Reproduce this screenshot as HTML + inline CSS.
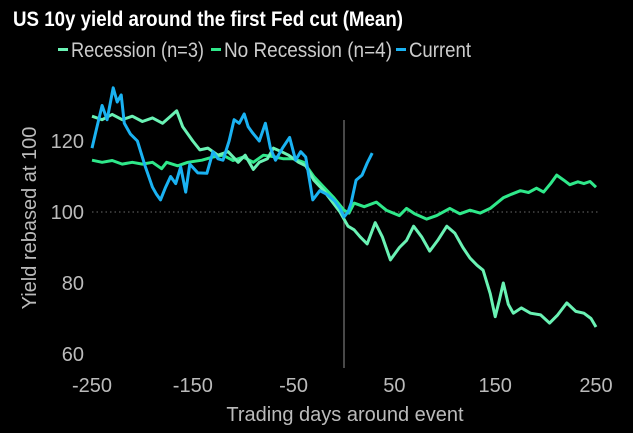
<!DOCTYPE html>
<html><head><meta charset="utf-8"><style>
html,body{margin:0;padding:0;background:#000;}
svg{display:block;font-family:"Liberation Sans",sans-serif;}
</style></head><body>
<svg id="chart" width="633" height="433" viewBox="0 0 633 433">
<rect width="633" height="433" fill="#000"/>
<text x="13" y="26" fill="#fff" font-size="21" font-weight="bold" textLength="390" lengthAdjust="spacingAndGlyphs">US 10y yield around the first Fed cut (Mean)</text>
<g id="legend"></g>
<g id="grid"></g><g id="series"></g><g id="axes"></g>
</svg>
<script>
const xTicks=[-250,-150,-50,50,150,250];
const yTicks=[60,80,100,120];
const recDays=[-250,-240,-230,-220,-210,-200,-190,-180,-172,-166,-160,-150,-143,-135,-125,-115,-105,-98,-90,-84,-76,-70,-62,-55,-45,-38,-30,-20,-12,-4,4,10,16,23,31,38,46,55,62,69,77,85,93,102,110,118,125,132,138,145,150,154,158,163,168,176,185,195,204,212,221,230,238,245,250];
const recVals=[127,126,127.5,126,127,125.5,126.5,125,127,128.5,124,120,117.5,118,116,117,114,116,112,114,115,118,117,116,114,113,109,106,103,100,96,95,93,91,97,93,86.5,90,92,96,93,89,92,96,94,90,87,85,83.6,77,70.5,75,80,74,71.5,73,71.5,71,68.7,71,74.4,72,71.5,70,67.6];
const norDays=[-250,-240,-230,-220,-210,-200,-190,-181,-176,-165,-155,-141,-130,-120,-110,-100,-90,-80,-70,-60,-50,-40,-30,-20,-10,0,5,10,20,32,42,55,62,70,82,92,105,115,125,135,145,158,166,175,183,191,198,205,211,218,224,232,238,244,250];
const norVals=[114.6,114,114.5,113.5,114,113.5,114,112.2,114,113,114,114.6,115.5,116,114.5,115.5,114,116,115.6,115,115,114,110,107,104,100.5,99.7,102.5,101.5,102.8,100.5,99,101,99.5,98,99,101,99.5,100.5,99.7,101,104,105,106,105.5,106.7,105.6,108,110.4,109,107.7,108.5,108,108.6,107];
const curDays=[-250,-245,-240,-235,-229,-225,-221,-218,-212,-205,-197,-190,-186,-182,-177,-172,-167,-162,-157,-153,-145,-136,-130,-125,-120,-114,-109,-104,-99,-95,-91,-84,-78,-73,-68,-61,-54,-48,-43,-38,-31,-24,-17,-9,-4,0,4,7,12,18,23,28];
const curVals=[118,124,130,126,135,131,133,125,122,120,112.7,107,105,103.4,107,110,108,112.7,105.6,113.5,111,110.9,117,115,114.6,120,126,125,127.6,124,122.4,120,125,118,114.6,118,121,114.6,117,115.5,103.4,106,105,103,101,98.6,100,102.5,109,110.4,113.8,116.6];

const NS="http://www.w3.org/2000/svg";
const svg=document.getElementById('chart');
const xS=d=>344+d*1.008;
const yS=v=>212-(v-100)*3.55;
function mk(tag,attrs,parent){const e=document.createElementNS(NS,tag);for(const k in attrs)e.setAttribute(k,attrs[k]);parent.appendChild(e);return e;}
const grid=document.getElementById('grid'),axes=document.getElementById('axes'),ser=document.getElementById('series'),leg=document.getElementById('legend');

const ref=mk('line',{x1:92,x2:600,y1:yS(100),y2:yS(100),stroke:'#555','stroke-width':1.2,'stroke-dasharray':'1.5,3'},grid);


const vl=mk('line',{x1:xS(0),x2:xS(0),y1:120,y2:368,stroke:'#777','stroke-width':1.2},grid);



xTicks.forEach(t=>{const e=mk('text',{x:xS(t),y:392,fill:'#bbb','font-size':20,'text-anchor':'middle'},axes);e.textContent=t;

});
yTicks.forEach(t=>{const e=mk('text',{x:84,y:yS(t)+7,fill:'#bbb','font-size':20,'text-anchor':'end'},axes);e.textContent=t;

});
const xt=mk('text',{x:345,y:421,fill:'#bbb','font-size':20,'text-anchor':'middle'},axes);xt.textContent='Trading days around event';


const yt=mk('text',{x:0,y:0,fill:'#bbb','font-size':20,'text-anchor':'middle',transform:'translate(36,218) rotate(-90)'},axes);yt.textContent='Yield rebased at 100';



function line(days,vals,color,name){const d=days.map((x,i)=>(i?'L':'M')+xS(x).toFixed(1)+','+yS(vals[i]).toFixed(1)).join('');
const p=mk('path',{d:d,fill:'none',stroke:color,'stroke-width':3,'stroke-linejoin':'round'},ser);

}
line(norDays,norVals,'#2fe88a','no-recession-line');
line(recDays,recVals,'#6af2b4','recession-line');
line(curDays,curVals,'#1ab2f2','current-line');

const items=[['Recession (n=3)','#6af2b4',57,133],['No Recession (n=4)','#2fe88a',210,168],['Current','#1ab2f2',395,62]];
items.forEach(it=>{mk('rect',{x:it[2]+1,y:48,width:10,height:3,fill:it[1]},leg);
const t=mk('text',{x:it[2]+14,y:57,fill:'#ccc','font-size':21},leg);
t.setAttribute('textLength',it[3]);
t.setAttribute('lengthAdjust','spacingAndGlyphs');
t.textContent=it[0];

});
</script>
</body></html>
